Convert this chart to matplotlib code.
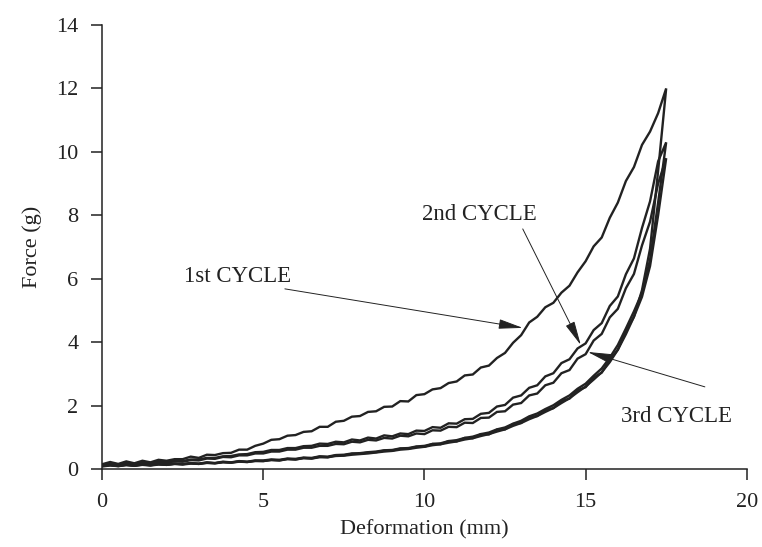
import numpy as np
import matplotlib
matplotlib.use('Agg')
import matplotlib.pyplot as plt

plt.rcParams['font.family'] = ['Liberation Serif', 'DejaVu Serif']

# deformation grid (mm), 0 .. 17.5 step 0.25
defo = np.arange(71) * 0.25

# force (g), loading (L) and unloading (U) branches
L1 = [0.15, 0.22, 0.16, 0.24, 0.18, 0.26, 0.21, 0.29, 0.26, 0.31,
      0.31, 0.39, 0.35, 0.45, 0.44, 0.50, 0.51, 0.61, 0.61, 0.73,
      0.80, 0.92, 0.94, 1.05, 1.07, 1.17, 1.19, 1.33, 1.33, 1.49,
      1.52, 1.65, 1.67, 1.80, 1.82, 1.96, 1.97, 2.14, 2.13, 2.33,
      2.36, 2.51, 2.55, 2.71, 2.76, 2.95, 2.98, 3.20, 3.26, 3.50,
      3.66, 3.98, 4.22, 4.62, 4.80, 5.10, 5.24, 5.56, 5.78, 6.20,
      6.55, 7.02, 7.30, 7.92, 8.40, 9.08, 9.52, 10.22, 10.64, 11.22,
      12.0]
U1 = [0.10, 0.13, 0.09, 0.14, 0.11, 0.15, 0.12, 0.16, 0.13, 0.17,
      0.15, 0.19, 0.16, 0.20, 0.18, 0.22, 0.20, 0.24, 0.22, 0.26,
      0.25, 0.29, 0.27, 0.32, 0.30, 0.35, 0.33, 0.39, 0.37, 0.43,
      0.43, 0.48, 0.48, 0.52, 0.53, 0.58, 0.58, 0.64, 0.64, 0.70,
      0.70, 0.79, 0.78, 0.88, 0.87, 0.98, 0.97, 1.10, 1.09, 1.24,
      1.25, 1.42, 1.45, 1.64, 1.67, 1.86, 1.92, 2.14, 2.22, 2.48,
      2.58, 2.88, 3.04, 3.44, 3.76, 4.34, 4.80, 5.64, 6.95, 9.40,
      12.0]
L2 = [0.12, 0.17, 0.13, 0.19, 0.16, 0.21, 0.18, 0.23, 0.21, 0.26,
      0.25, 0.30, 0.30, 0.35, 0.35, 0.40, 0.41, 0.46, 0.47, 0.53,
      0.54, 0.60, 0.60, 0.66, 0.66, 0.72, 0.73, 0.80, 0.79, 0.86,
      0.84, 0.93, 0.90, 0.99, 0.96, 1.06, 1.03, 1.12, 1.10, 1.21,
      1.20, 1.32, 1.30, 1.44, 1.43, 1.57, 1.58, 1.74, 1.77, 1.97,
      2.02, 2.25, 2.32, 2.56, 2.64, 2.92, 3.02, 3.34, 3.46, 3.80,
      3.96, 4.38, 4.60, 5.14, 5.44, 6.14, 6.64, 7.60, 8.44, 9.70,
      10.3]
U2 = [0.09, 0.12, 0.10, 0.13, 0.10, 0.14, 0.12, 0.15, 0.14, 0.16,
      0.16, 0.18, 0.17, 0.21, 0.19, 0.23, 0.21, 0.25, 0.23, 0.27,
      0.27, 0.30, 0.29, 0.33, 0.32, 0.36, 0.35, 0.40, 0.39, 0.44,
      0.45, 0.49, 0.50, 0.53, 0.55, 0.59, 0.60, 0.65, 0.66, 0.71,
      0.73, 0.79, 0.81, 0.88, 0.91, 0.98, 1.02, 1.10, 1.15, 1.25,
      1.31, 1.43, 1.52, 1.66, 1.75, 1.89, 2.01, 2.18, 2.32, 2.53,
      2.69, 2.94, 3.17, 3.51, 3.91, 4.43, 4.97, 5.56, 6.60, 8.40,
      10.3]
L3 = [0.10, 0.15, 0.12, 0.17, 0.14, 0.19, 0.16, 0.21, 0.20, 0.24,
      0.23, 0.28, 0.27, 0.33, 0.32, 0.38, 0.37, 0.43, 0.43, 0.49,
      0.49, 0.55, 0.55, 0.61, 0.61, 0.67, 0.67, 0.73, 0.73, 0.79,
      0.78, 0.86, 0.84, 0.92, 0.90, 0.98, 0.96, 1.05, 1.03, 1.12,
      1.10, 1.22, 1.21, 1.33, 1.32, 1.46, 1.45, 1.61, 1.62, 1.80,
      1.82, 2.03, 2.08, 2.32, 2.38, 2.64, 2.72, 3.02, 3.12, 3.48,
      3.62, 4.05, 4.26, 4.78, 5.05, 5.70, 6.15, 7.05, 7.80, 9.00,
      9.8]
U3 = [0.08, 0.11, 0.09, 0.12, 0.10, 0.13, 0.11, 0.14, 0.13, 0.16,
      0.14, 0.17, 0.16, 0.19, 0.18, 0.21, 0.20, 0.23, 0.22, 0.25,
      0.25, 0.28, 0.27, 0.31, 0.30, 0.34, 0.33, 0.37, 0.37, 0.41,
      0.42, 0.45, 0.47, 0.49, 0.52, 0.55, 0.57, 0.61, 0.63, 0.67,
      0.70, 0.75, 0.78, 0.83, 0.87, 0.93, 0.97, 1.04, 1.10, 1.18,
      1.25, 1.36, 1.45, 1.57, 1.67, 1.80, 1.92, 2.08, 2.23, 2.42,
      2.60, 2.82, 3.05, 3.37, 3.76, 4.25, 4.80, 5.43, 6.40, 8.00,
      9.8]

cycles = [(L1, U1), (L2, U2), (L3, U3)]

# labels: text, text position, arrow start, arrow tip
labels = ['1st CYCLE', '2nd CYCLE', '3rd CYCLE']
text_xy = [(4.19, 6.06), (11.72, 8.04), (17.83, 1.64)]
arrow_from = [(5.67, 5.68), (13.05, 7.57), (18.70, 2.59)]
arrow_to = [(13.05, 4.45), (14.85, 3.91), (15.07, 3.69)]

ink = '#222222'

fig = plt.figure(figsize=(7.62, 5.47), dpi=100)
ax = fig.add_axes([0.134, 0.1426, 0.846, 0.8117])

for load, unload in cycles:
    xx = np.concatenate([defo, defo[::-1]])
    yy = np.concatenate([load, unload[::-1]])
    ax.plot(xx, yy, color=ink, lw=1.7, solid_joinstyle='miter')

for lab, txy, a0, a1 in zip(labels, text_xy, arrow_from, arrow_to):
    ax.text(txy[0], txy[1], lab, ha='center', va='center', fontsize=16.5, color=ink)
    ax.annotate('', xy=a1, xytext=a0,
                arrowprops=dict(arrowstyle='-|>,head_length=1.5,head_width=0.3',
                                mutation_scale=10, lw=0.7, color=ink,
                                shrinkA=0, shrinkB=0))

ax.set_xlim(0, 20)
ax.set_ylim(0, 14)
ax.set_xticks([0, 5, 10, 15, 20])
ax.set_yticks(range(0, 15, 2))
for s in ['top', 'right']:
    ax.spines[s].set_visible(False)
for s in ['left', 'bottom']:
    ax.spines[s].set_linewidth(1.1)
    ax.spines[s].set_color(ink)
ax.tick_params(direction='out', length=8, width=1.1, color=ink,
               labelsize=16, labelcolor=ink, pad=9)
ax.set_xlabel('Deformation (mm)', fontsize=16, color=ink, labelpad=6)
ax.set_ylabel('Force (g)', fontsize=16, color=ink, labelpad=10)

fig.savefig('out.png', dpi=100)
